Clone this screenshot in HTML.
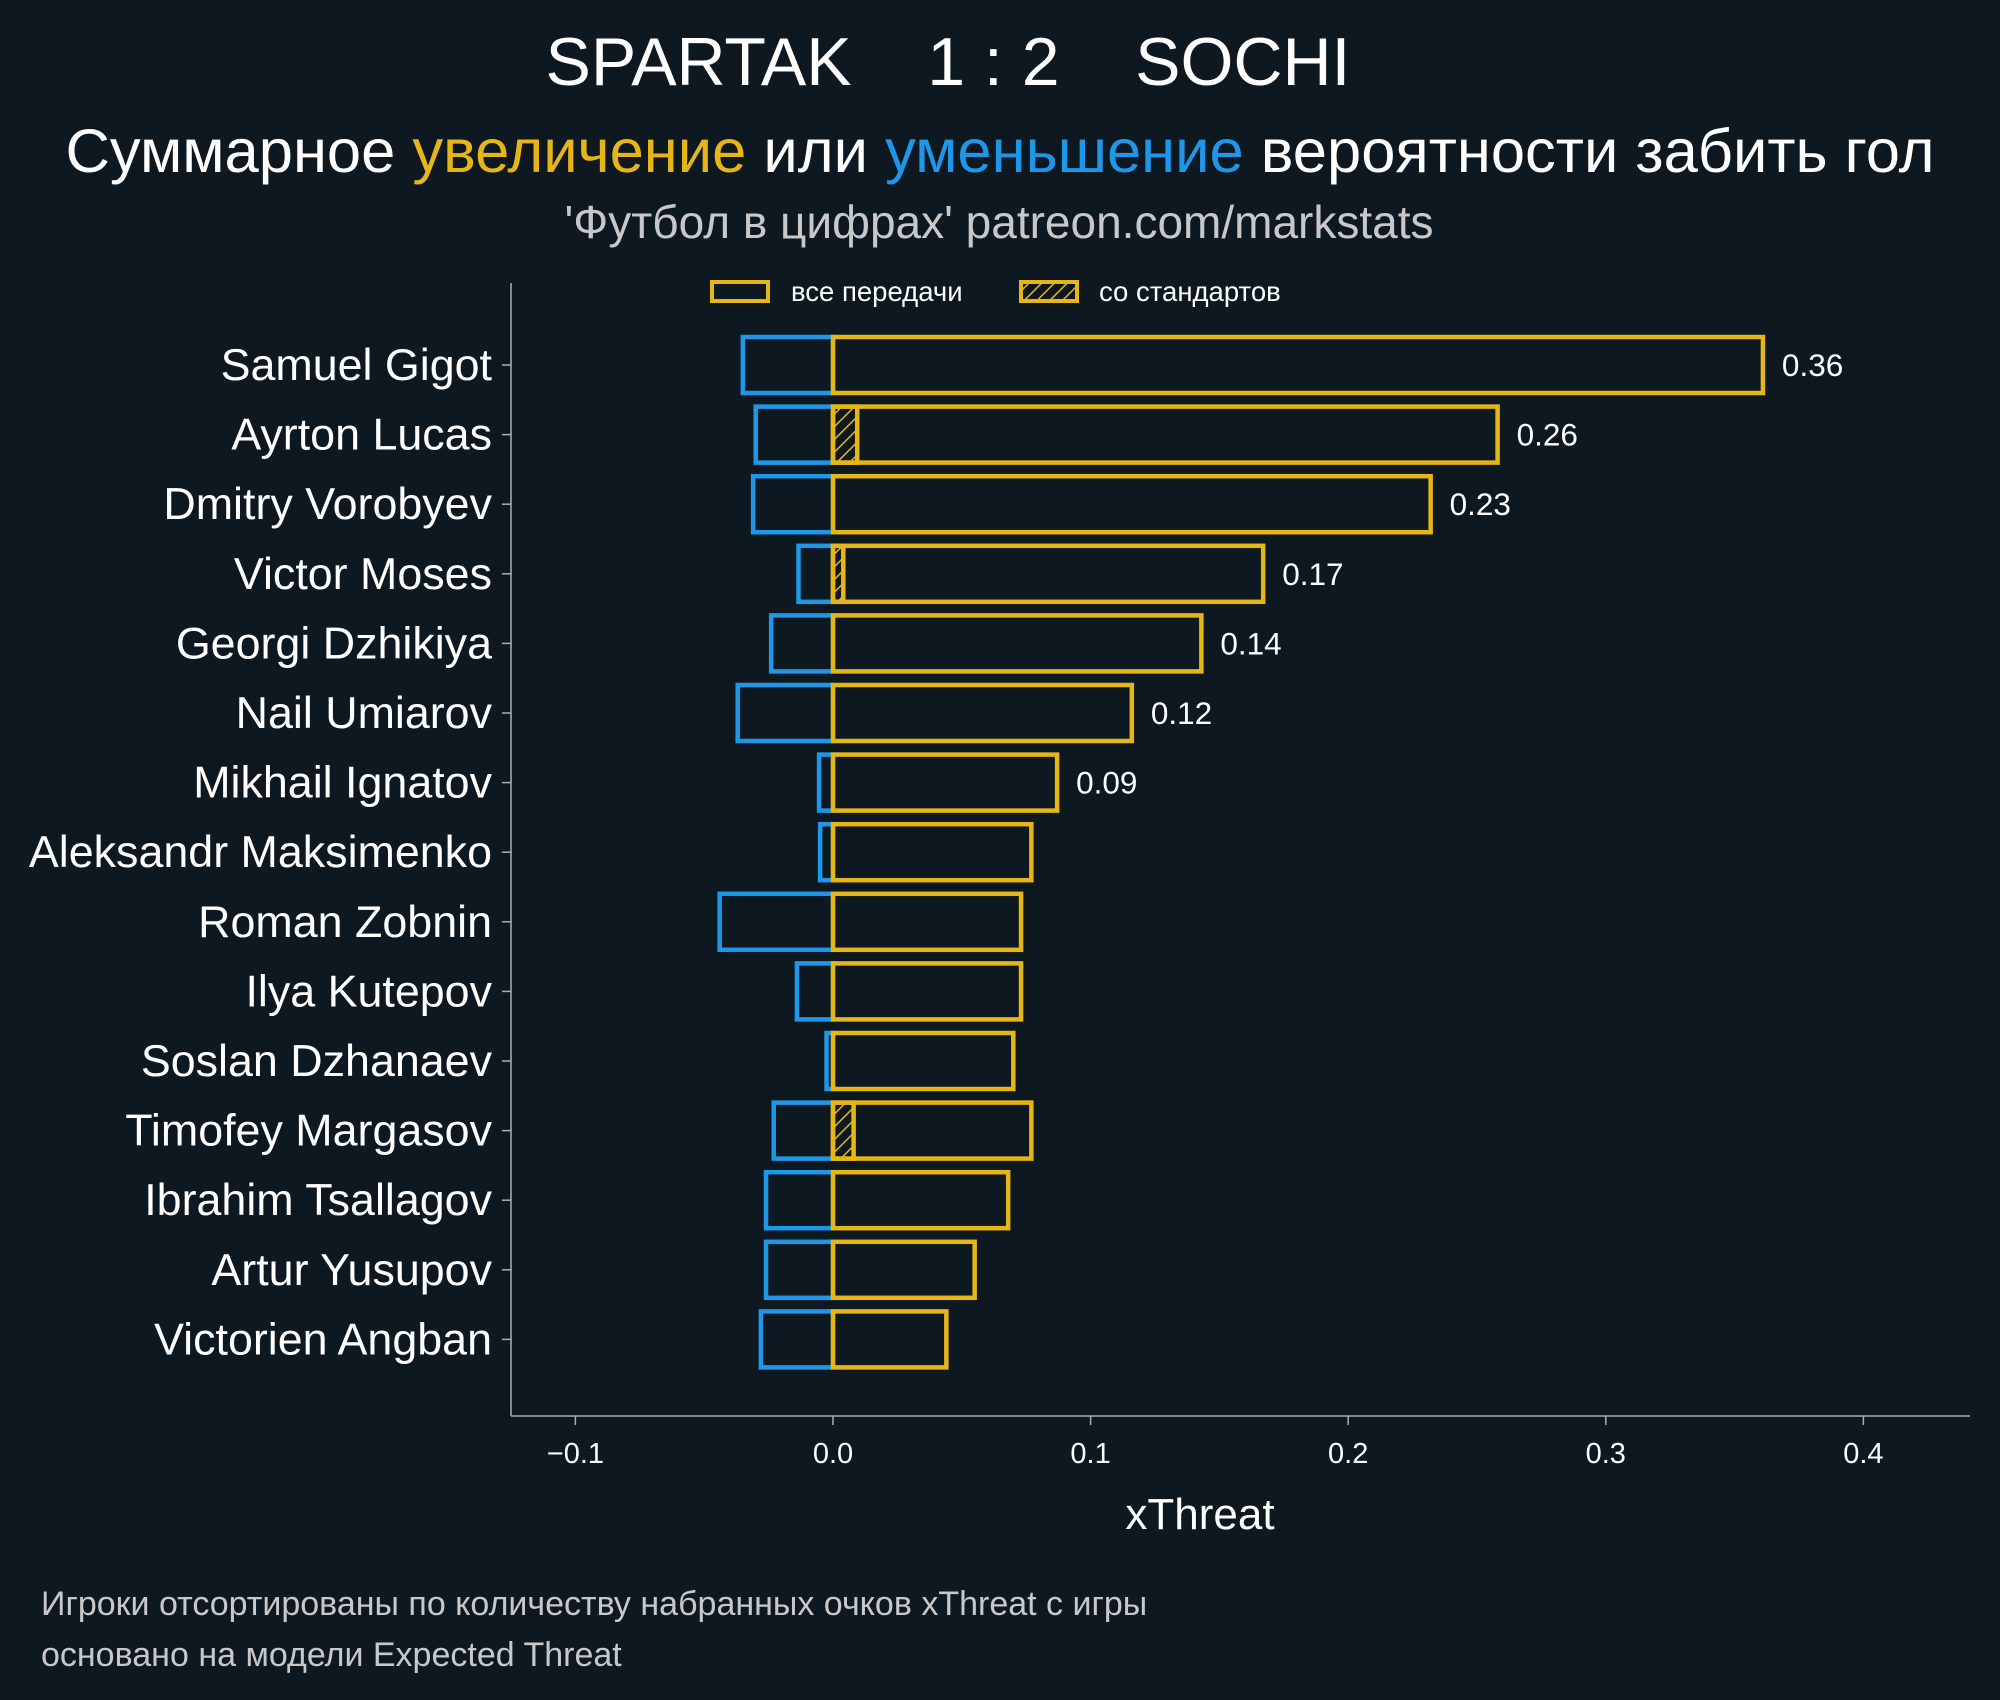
<!DOCTYPE html>
<html><head><meta charset="utf-8">
<style>
html,body{margin:0;padding:0;background:#0d1821;}
svg{display:block;font-family:"Liberation Sans","DejaVu Sans",sans-serif;}
</style></head>
<body>
<svg id="chart" width="2000" height="1700" viewBox="0 0 2000 1700" xmlns="http://www.w3.org/2000/svg">
<defs>
<pattern id="hatch" patternUnits="userSpaceOnUse" width="9" height="9" patternTransform="rotate(45)">
<rect width="9" height="9" fill="#0d1821"/>
<line x1="0" y1="0" x2="0" y2="9" stroke="#e6b619" stroke-width="3"/>
</pattern>
</defs>
<rect width="2000" height="1700" fill="#0d1821"/>
<text x="948" y="85" text-anchor="middle" fill="#ffffff" font-size="68" xml:space="preserve">SPARTAK    1 : 2    SOCHI</text>
<text x="1000" y="172" text-anchor="middle" fill="#ffffff" font-size="61.5">Суммарное <tspan fill="#e6b619">увеличение</tspan> или <tspan fill="#1f97e8">уменьшение</tspan> вероятности забить гол</text>
<text x="999" y="238" text-anchor="middle" fill="#c8c8c8" font-size="46">'Футбол в цифрах' patreon.com/markstats</text>
<g>
<rect x="712" y="282" width="56" height="19" fill="none" stroke="#e6b619" stroke-width="4"/>
<text x="791" y="301" fill="#ffffff" font-size="27.5">все передачи</text>
<rect x="1021" y="282" width="56" height="19" fill="url(#hatch)" stroke="#e6b619" stroke-width="4"/>
<text x="1099" y="301" fill="#ffffff" font-size="27.5">со стандартов</text>
</g>
<g id="plot"></g>
<text x="1200" y="1529" text-anchor="middle" fill="#ffffff" font-size="44">xThreat</text>
<text x="41" y="1615" fill="#c8c8c8" font-size="34">Игроки отсортированы по количеству набранных очков xThreat с игры</text>
<text x="41" y="1666" fill="#c8c8c8" font-size="34">основано на модели Expected Threat</text>
</svg>
<script>
const players = ["Samuel Gigot","Ayrton Lucas","Dmitry Vorobyev","Victor Moses","Georgi Dzhikiya","Nail Umiarov","Mikhail Ignatov","Aleksandr Maksimenko","Roman Zobnin","Ilya Kutepov","Soslan Dzhanaev","Timofey Margasov","Ibrahim Tsallagov","Artur Yusupov","Victorien Angban"];
const positiveXT = [0.361,0.258,0.232,0.167,0.143,0.116,0.087,0.077,0.073,0.073,0.070,0.077,0.068,0.055,0.044];
const negativeXT = [-0.035,-0.030,-0.031,-0.0134,-0.024,-0.037,-0.0054,-0.005,-0.044,-0.014,-0.0025,-0.023,-0.026,-0.026,-0.028];
const setPieceXT = [0,0.0094,0,0.004,0,0,0,0,0,0,0,0.008,0,0,0];
const valueLabels = ["0.36","0.26","0.23","0.17","0.14","0.12","0.09","","","","","","","",""];
const xTicks = [-0.1,0.0,0.1,0.2,0.3,0.4];
const xTickLabels = ["\u22120.1","0.0","0.1","0.2","0.3","0.4"];

const NS="http://www.w3.org/2000/svg";
const plot=document.getElementById('plot');
const X0=833, XS=2576;
const xs=v=>X0+v*XS;
const ys=i=>365+i*69.6;
const BH=56;
function mk(tag,attrs){const e=document.createElementNS(NS,tag);for(const k in attrs)e.setAttribute(k,attrs[k]);plot.appendChild(e);return e;}

const ax=mk('line',{x1:511,y1:283,x2:511,y2:1416,stroke:'#a8b0b8','stroke-width':1.5});


const bx=mk('line',{x1:511,y1:1416,x2:1970,y2:1416,stroke:'#a8b0b8','stroke-width':1.5});



xTicks.forEach((t,i)=>{
  const tk=mk('line',{x1:xs(t),y1:1416,x2:xs(t),y2:1425,stroke:'#a8b0b8','stroke-width':1.5});
  
  
  const tl=mk('text',{x:xs(t),y:1463,'text-anchor':'middle',fill:'#ffffff','font-size':29});
  tl.textContent=xTickLabels[i];
  
  
});

players.forEach((p,i)=>{
  const y=ys(i);
  const tk=mk('line',{x1:502,y1:y,x2:511,y2:y,stroke:'#a8b0b8','stroke-width':1.5});
  
  
  const lb=mk('text',{x:492,y:y+15,'text-anchor':'end',fill:'#ffffff','font-size':44.8});
  lb.textContent=p;
  
  
  const n=negativeXT[i];
  const nb=mk('rect',{x:xs(n),y:y-BH/2,width:xs(0)-xs(n),height:BH,fill:'none',stroke:'#1f97e8','stroke-width':4.5});
  
  
  if(setPieceXT[i]>0){
    const hb=mk('rect',{x:xs(0),y:y-BH/2,width:xs(setPieceXT[i])-xs(0),height:BH,fill:'url(#hatch)',stroke:'#e6b619','stroke-width':4.5});
    
    
  }
  const pv=positiveXT[i];
  const pb=mk('rect',{x:xs(0),y:y-BH/2,width:xs(pv)-xs(0),height:BH,fill:'none',stroke:'#e6b619','stroke-width':4.5});
  
  
  if(valueLabels[i]){
    const vl=mk('text',{x:xs(pv)+19,y:y+11,fill:'#ffffff','font-size':31.5});
    vl.textContent=valueLabels[i];
    
    
  }
});
</script>
</body></html>
